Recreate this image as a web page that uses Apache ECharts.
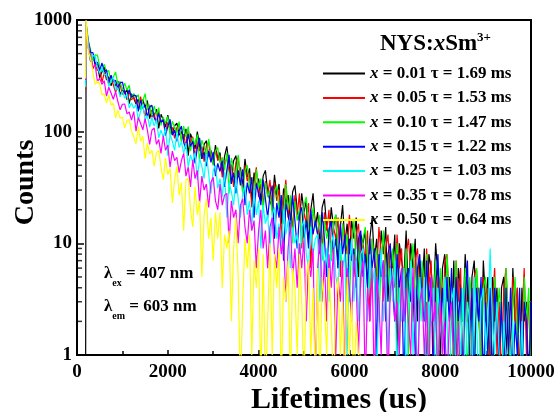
<!DOCTYPE html>
<html>
<head>
<meta charset="utf-8">
<script src="https://cdn.jsdelivr.net/npm/echarts@6/dist/echarts.min.js"></script>
<style>
  html, body { margin: 0; padding: 0; background: #fff; }
  #main { width: 556px; height: 412px; }
</style>
</head>
<body>
<div id="main"></div>
<script>
// time channels (us)
const times = [190, 200, 250,
  300, 350, 400, 450, 500, 550, 600, 650, 700, 750, 800, 850, 900, 950, 1000, 1050, 1100, 1150, 1200, 1250,
  1300, 1350, 1400, 1450, 1500, 1550, 1600, 1650, 1700, 1750, 1800, 1850, 1900, 1950, 2000, 2050, 2100, 2150, 2200, 2250,
  2300, 2350, 2400, 2450, 2500, 2550, 2600, 2650, 2700, 2750, 2800, 2850, 2900, 2950, 3000, 3050, 3100, 3150, 3200, 3250,
  3300, 3350, 3400, 3450, 3500, 3550, 3600, 3650, 3700, 3750, 3800, 3850, 3900, 3950, 4000, 4050, 4100, 4150, 4200, 4250,
  4300, 4350, 4400, 4450, 4500, 4550, 4600, 4650, 4700, 4750, 4800, 4850, 4900, 4950, 5000, 5050, 5100, 5150, 5200, 5250,
  5300, 5350, 5400, 5450, 5500, 5550, 5600, 5650, 5700, 5750, 5800, 5850, 5900, 5950, 6000, 6050, 6100, 6150, 6200, 6250,
  6300, 6350, 6400, 6450, 6500, 6550, 6600, 6650, 6700, 6750, 6800, 6850, 6900, 6950, 7000, 7050, 7100, 7150, 7200, 7250,
  7300, 7350, 7400, 7450, 7500, 7550, 7600, 7650, 7700, 7750, 7800, 7850, 7900, 7950, 8000, 8050, 8100, 8150, 8200, 8250,
  8300, 8350, 8400, 8450, 8500, 8550, 8600, 8650, 8700, 8750, 8800, 8850, 8900, 8950, 9000, 9050, 9100, 9150, 9200, 9250,
  9300, 9350, 9400, 9450, 9500, 9550, 9600, 9650, 9700, 9750, 9800, 9850, 9900, 9950, 10000];

// counts per concentration
const x001 = [0, 880, 560,
  423, 475, 398, 401, 304, 343, 378, 291, 309, 258, 296, 256, 283, 213, 239, 217, 240, 178, 219, 199,
  177, 196, 157, 194, 164, 190, 131, 156, 138, 159, 107, 143, 127, 110, 141, 113, 94, 113, 119, 93,
  100, 86, 106, 61, 96, 84, 70, 100, 75, 57, 77, 83, 60, 68, 52, 76, 57, 65, 42, 60,
  74, 50, 34, 55, 61, 39, 48, 32, 57, 39, 47, 24, 43, 32, 38, 24, 40, 45, 29, 24,
  21, 41, 27, 34, 15, 31, 23, 27, 16, 29, 33, 20, 16, 28, 19, 24, 10, 20, 28, 14,
  19, 10, 21, 25, 14, 11, 21, 14, 18, 6, 14, 22, 10, 15, 8, 16, 11, 17, 5, 12,
  10, 13, 4, 11, 17, 7, 11, 5, 13, 8, 14, 3, 9, 6, 12, 1, 10, 7, 5, 13,
  3, 10, 6, 11, 2, 7, 4, 9, 0, 8, 6, 3, 10, 5, 1, 6, 8, 3, 5, 2,
  7, 0, 6, 4, 2, 8, 4, 0, 5, 7, 2, 4, 1, 7, 3, 5, 0, 5, 2, 4,
  0, 4, 5, 1, 3, 1, 6, 2, 4, 0, 4, 2, 3, 0, 4];
const x005 = [240, 870, 600,
  503, 367, 402, 351, 376, 277, 336, 302, 268, 317, 263, 225, 257, 263, 216, 226, 193, 230, 193, 204,
  184, 161, 206, 166, 138, 166, 173, 135, 145, 119, 152, 122, 133, 96, 121, 104, 109, 87, 109, 113,
  84, 95, 73, 105, 79, 90, 57, 82, 67, 74, 54, 75, 80, 58, 51, 69, 55, 61, 39, 53,
  58, 44, 51, 32, 53, 59, 37, 31, 50, 36, 42, 21, 35, 48, 26, 34, 22, 36, 27, 37,
  20, 35, 24, 30, 11, 24, 37, 17, 25, 13, 27, 18, 28, 9, 19, 15, 23, 6, 20, 16,
  12, 17, 9, 19, 13, 20, 7, 14, 11, 17, 5, 15, 12, 8, 18, 10, 5, 12, 15, 7,
  10, 7, 13, 2, 11, 8, 5, 14, 8, 3, 9, 12, 5, 8, 4, 12, 6, 9, 2, 8,
  11, 6, 2, 7, 9, 4, 6, 2, 9, 4, 7, 1, 6, 4, 5, 1, 7, 8, 3, 2,
  1, 7, 3, 6, 0, 5, 2, 4, 0, 5, 6, 2, 1, 5, 2, 4, 0, 3, 6, 1,
  3, 0, 4, 6, 2, 1, 5, 2, 4, 0, 2, 6, 1, 3, 3];
const x010 = [260, 930, 660,
  534, 433, 488, 485, 386, 351, 401, 344, 353, 274, 308, 342, 265, 282, 236, 272, 236, 261, 197, 220,
  203, 215, 157, 189, 219, 158, 174, 139, 170, 142, 164, 114, 135, 119, 137, 93, 124, 110, 97, 123,
  81, 112, 89, 111, 67, 88, 76, 94, 54, 84, 73, 60, 86, 65, 50, 67, 72, 52, 59, 45,
  65, 28, 58, 48, 37, 62, 42, 28, 45, 50, 31, 39, 26, 46, 31, 38, 19, 35, 26, 30,
  18, 29, 33, 20, 27, 15, 34, 20, 27, 10, 24, 16, 20, 10, 22, 26, 14, 11, 21, 14,
  13, 18, 7, 16, 11, 14, 7, 15, 18, 9, 7, 15, 9, 12, 3, 10, 16, 6, 10, 4,
  11, 14, 7, 4, 11, 7, 9, 2, 7, 13, 4, 8, 3, 9, 5, 10, 1, 6, 4, 9,
  1, 6, 10, 3, 6, 2, 7, 4, 8, 1, 5, 3, 7, 0, 6, 4, 2, 8, 3, 0,
  3, 7, 0, 4, 2, 6, 0, 5, 3, 1, 6, 3, 0, 4, 5, 1, 3, 0, 5, 2,
  4, 2, 1, 6, 2, 0, 3, 5, 1, 3, 0, 5, 2, 4, 0];
const x015 = [270, 900, 640,
  512, 510, 409, 419, 350, 413, 344, 358, 275, 321, 281, 288, 239, 274, 278, 227, 207, 237, 203, 211,
  210, 152, 191, 163, 171, 135, 167, 172, 133, 120, 146, 121, 128, 92, 111, 129, 93, 103, 82, 102,
  112, 80, 70, 95, 74, 82, 52, 71, 88, 57, 66, 49, 67, 53, 66, 40, 52, 44, 55, 32,
  45, 62, 34, 43, 28, 45, 33, 46, 22, 35, 28, 39, 17, 34, 28, 22, 37, 25, 17, 27,
  33, 11, 23, 17, 27, 7, 23, 18, 13, 27, 16, 9, 18, 21, 11, 16, 9, 20, 12, 16,
  12, 8, 19, 11, 5, 13, 16, 8, 11, 6, 15, 8, 12, 3, 11, 7, 9, 4, 11, 13,
  5, 8, 4, 11, 6, 9, 1, 8, 5, 7, 2, 8, 10, 4, 2, 8, 4, 6, 0, 5,
  6, 3, 5, 1, 6, 8, 3, 2, 7, 3, 5, 0, 4, 8, 2, 4, 1, 5, 2, 6,
  1, 5, 2, 4, 0, 3, 7, 1, 4, 0, 4, 2, 5, 0, 3, 1, 4, 0, 4, 2,
  1, 3, 0, 4, 1, 4, 0, 2, 1, 4, 0, 3, 2, 0, 3];
const x025 = [250, 950, 620,
  428, 479, 474, 376, 335, 380, 322, 329, 253, 284, 309, 236, 248, 205, 232, 199, 219, 163, 181, 162,
  175, 126, 152, 176, 128, 139, 110, 134, 112, 128, 88, 103, 89, 108, 61, 95, 82, 68, 97, 72,
  81, 64, 79, 48, 62, 53, 65, 37, 57, 49, 38, 63, 42, 28, 45, 50, 31, 38, 26, 44,
  17, 35, 29, 22, 38, 25, 17, 28, 33, 18, 24, 14, 30, 18, 24, 9, 22, 15, 18, 9,
  18, 21, 11, 15, 9, 20, 12, 16, 6, 14, 10, 12, 6, 14, 16, 8, 6, 14, 8, 11,
  12, 3, 10, 6, 9, 3, 10, 12, 5, 4, 10, 6, 8, 1, 6, 11, 3, 7, 2, 8,
  9, 4, 2, 8, 4, 6, 0, 4, 9, 2, 5, 1, 6, 3, 7, 0, 4, 2, 6, 0,
  3, 7, 1, 4, 0, 5, 2, 5, 0, 3, 2, 4, 0, 4, 2, 1, 5, 2, 0, 3,
  4, 0, 2, 1, 4, 0, 3, 2, 0, 5, 2, 0, 3, 4, 1, 2, 9, 2, 1, 3,
  1, 0, 2, 1, 0, 1, 2, 0, 1, 0, 2, 0, 1, 0, 0];
const x035 = [290, 970, 560,
  465, 379, 397, 282, 300, 265, 286, 208, 250, 222, 195, 228, 186, 157, 176, 177, 145, 150, 127, 151,
  101, 134, 119, 104, 131, 103, 77, 103, 108, 77, 85, 64, 92, 68, 76, 48, 67, 55, 59, 43,
  55, 64, 40, 48, 32, 56, 38, 45, 23, 40, 30, 34, 21, 35, 39, 24, 20, 34, 22, 27,
  28, 10, 24, 17, 20, 10, 22, 25, 14, 10, 20, 13, 16, 6, 13, 20, 9, 13, 6, 14,
  17, 8, 6, 14, 8, 11, 3, 9, 15, 5, 9, 4, 10, 6, 11, 2, 7, 5, 9, 0,
  6, 11, 3, 7, 2, 8, 4, 9, 1, 5, 3, 7, 0, 6, 4, 2, 8, 4, 1, 5,
  7, 0, 4, 2, 6, 0, 5, 3, 1, 7, 3, 0, 4, 5, 2, 3, 1, 6, 2, 4,
  2, 1, 6, 2, 0, 3, 4, 1, 3, 0, 5, 2, 3, 0, 3, 1, 2, 0, 2, 3,
  1, 0, 2, 0, 1, 0, 0, 1, 0, 0, 0, 1, 0, 0, 0, 0, 0, 0, 0, 0,
  0, 0, 0, 0, 0, 0, 0, 0, 0, 0, 0, 0, 0, 0, 0];
const x050 = [300, 1000, 520,
  452, 342, 265, 284, 269, 212, 218, 180, 214, 173, 179, 133, 156, 132, 134, 108, 126, 128, 101, 90,
  78, 111, 82, 91, 57, 79, 63, 68, 49, 65, 68, 48, 37, 58, 41, 47, 23, 37, 49, 27,
  35, 13, 37, 38, 20, 14, 32, 18, 24, 5, 18, 25, 11, 17, 7, 19, 11, 19, 4, 12,
  9, 13, 2, 9, 17, 5, 0, 3, 11, 6, 12, 1, 7, 4, 9, 0, 8, 0, 2, 10,
  1, 8, 4, 9, 0, 5, 3, 7, 0, 6, 4, 1, 8, 3, 0, 5, 7, 1, 4, 0,
  6, 0, 5, 3, 1, 6, 2, 0, 3, 5, 1, 3, 0, 5, 1, 3, 0, 2, 1, 1,
  0, 1, 0, 0, 0, 1, 0, 0, 0, 0, 0, 0, 0, 0, 0, 0, 0, 0, 0, 0,
  0, 0, 0, 0, 0, 0, 0, 0, 0, 0, 0, 0, 0, 0, 0, 0, 0, 0, 0, 0,
  0, 0, 0, 0, 0, 0, 0, 0, 0, 0, 0, 0, 0, 0, 0, 0, 0, 0, 0, 0,
  0, 0, 0, 0, 0, 0, 0, 0, 0, 0, 0, 0, 0, 0, 0];

const names = ['x = 0.01 τ = 1.69 ms', 'x = 0.05 τ = 1.53 ms', 'x = 0.10 τ = 1.47 ms',
  'x = 0.15 τ = 1.22 ms', 'x = 0.25 τ = 1.03 ms', 'x = 0.35 τ = 0.78 ms', 'x = 0.50 τ = 0.64 ms'];
const colors = ['#000000', '#ff0000', '#00ff00', '#0000ff', '#00ffff', '#ff00ff', '#ffff00'];
const counts = [x001, x005, x010, x015, x025, x035, x050];
const yMinor = [2, 3, 4, 5, 6, 7, 8, 9, 20, 30, 40, 50, 60, 70, 80, 90, 200, 300, 400, 500, 600, 700, 800, 900];

const serif = 'Liberation Serif, Times New Roman, serif';

// zero counts can't sit on a log axis, push them just below the frame
function toPairs(vals) {
  return times.map((t, i) => [t, vals[i] > 0 ? vals[i] : 0.5]);
}

const series = counts.map((vals, i) => ({
  name: names[i],
  type: 'line',
  data: toPairs(vals),
  showSymbol: false,
  symbol: 'none',
  lineStyle: { color: colors[i], width: 1.2 },
  itemStyle: { color: colors[i] },
  clip: true
}));

// log minor ticks on the y axis
series.push({
  type: 'scatter',
  data: yMinor.map(v => [0, v]),
  symbol: 'rect',
  symbolSize: [5, 1.5],
  symbolOffset: [2.5, 0],
  itemStyle: { color: '#000' },
  silent: true,
  clip: false,
  z: 10
});

const chart = echarts.init(document.getElementById('main'));
chart.setOption({
  animation: false,
  backgroundColor: '#fff',
  grid: {
    left: 77, right: 25, top: 20, bottom: 57,
    outerBoundsMode: 'none',
    containLabel: false,
    show: true, borderColor: '#000', borderWidth: 2
  },
  title: [
    {
      text: '{a|NYS:}{i|x}{a|Sm}{s|3+}',
      left: 375, top: 26,
      textStyle: {
        rich: {
          a: { fontFamily: serif, fontSize: 23, fontWeight: 'bold', color: '#000', lineHeight: 26 },
          i: { fontFamily: serif, fontSize: 23, fontWeight: 'bold', fontStyle: 'italic', color: '#000', lineHeight: 26 },
          s: { fontFamily: serif, fontSize: 13, fontWeight: 'bold', color: '#000', verticalAlign: 'top' }
        }
      }
    },
    {
      text: '{l|λ}{s|ex}{l| = 407 nm}',
      left: 99, top: 255,
      textStyle: {
        rich: {
          l: { fontFamily: serif, fontSize: 17, fontWeight: 'bold', color: '#000', lineHeight: 28 },
          s: { fontFamily: serif, fontSize: 10, fontWeight: 'bold', color: '#000', verticalAlign: 'bottom' }
        }
      }
    },
    {
      text: '{l|λ}{s|em}{l| = 603 nm}',
      left: 99, top: 288,
      textStyle: {
        rich: {
          l: { fontFamily: serif, fontSize: 17, fontWeight: 'bold', color: '#000', lineHeight: 28 },
          s: { fontFamily: serif, fontSize: 10, fontWeight: 'bold', color: '#000', verticalAlign: 'bottom' }
        }
      }
    }
  ],
  legend: {
    data: names,
    orient: 'vertical',
    left: 318, top: 60,
    itemWidth: 42, itemHeight: 2, itemGap: 7.4,
    icon: 'rect',
    formatter: name => '{i|x}{t|' + name.slice(1) + '}',
    textStyle: {
      rich: {
        i: { fontFamily: serif, fontSize: 17, fontWeight: 'bold', fontStyle: 'italic', color: '#000' },
        t: { fontFamily: serif, fontSize: 17, fontWeight: 'bold', color: '#000' }
      }
    }
  },
  xAxis: {
    type: 'value',
    min: 0, max: 10000, interval: 2000,
    name: 'Lifetimes (us)',
    nameLocation: 'middle',
    nameGap: 30,
    nameMoveOverlap: false,
    nameTextStyle: {
      fontFamily: serif, fontSize: 30, fontWeight: 'bold', color: '#000',
      padding: [0, 0, 0, 70]
    },
    axisLine: { lineStyle: { color: '#000', width: 2 } },
    axisTick: { inside: true, length: 5, lineStyle: { color: '#000', width: 1.5 } },
    minorTick: { show: true, splitNumber: 2, length: 4, lineStyle: { color: '#000', width: 1.5 } },
    axisLabel: {
      fontFamily: serif, fontSize: 19, fontWeight: 'bold', color: '#000', margin: 8,
      formatter: v => String(v)
    },
    splitLine: { show: false }
  },
  yAxis: {
    type: 'log',
    logBase: 10,
    min: 1, max: 1000,
    name: 'Counts',
    nameLocation: 'middle',
    nameGap: 37,
    nameMoveOverlap: false,
    nameTextStyle: {
      fontFamily: serif, fontSize: 28, fontWeight: 'bold', color: '#000',
      padding: [0, 0, 0, 10]
    },
    axisLine: { lineStyle: { color: '#000', width: 2 } },
    axisTick: { inside: true, length: 7, lineStyle: { color: '#000', width: 1.5 } },
    axisLabel: {
      fontFamily: serif, fontSize: 19, fontWeight: 'bold', color: '#000', margin: 5,
      formatter: v => String(Math.round(v))
    },
    splitLine: { show: false }
  },
  series: series
});
</script>
</body>
</html>
